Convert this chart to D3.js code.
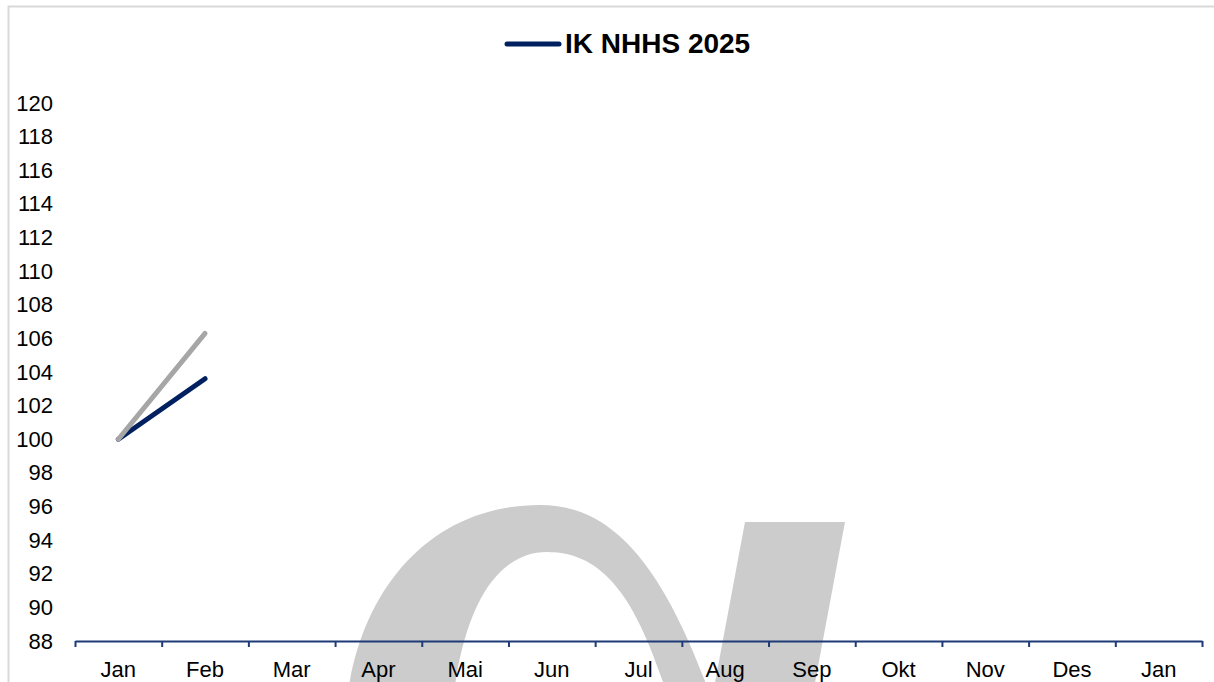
<!DOCTYPE html>
<html>
<head>
    <meta charset="utf-8">
    <script src="https://d3js.org/d3.v7.min.js"></script>
    <style>
        body { margin: 0; background: #fff; }
        text { font-family: Arial, "Liberation Sans", sans-serif; }
    </style>
</head>
<body>
    <svg width="1214" height="682"></svg>

    <script>
        // month labels along the x axis (the year rolls over to Jan at the end)
        var months = ["Jan", "Feb", "Mar", "Apr", "Mai", "Jun", "Jul", "Aug", "Sep", "Okt", "Nov", "Des", "Jan"];
        // index values
        var ikNhhs2025 = [100, 103.6];
        var ikCompare = [100, 106.3];
        var yTicks = [88, 90, 92, 94, 96, 98, 100, 102, 104, 106, 108, 110, 112, 114, 116, 118, 120];
        var legendLabel = "IK NHHS 2025";

        var width = 1214;
        var height = 682;

        var svg = d3.select("svg")
            .attr("width", width)
            .attr("height", height);

        // chart frame (runs off the bottom/right of the picture)
        svg.append("rect")
            .attr("x", 8.5)
            .attr("y", 6.5)
            .attr("width", 1240)
            .attr("height", 720)
            .attr("fill", "#fff")
            .attr("stroke", "#d9d9d9")
            .attr("stroke-width", 2);

        // grey watermark logo behind the plot
        var logo = svg.append("g").attr("fill", "#cccccc");
        logo.append("path")
            .attr("d", "M347,700 C360,590 430,505 540,505 C610,505 662,560 712,700 " +
                       "L669,700 C640,610 610,552 547,552 C500,552 465,600 453,700 Z");
        logo.append("path")
            .attr("d", "M745,522 L845,522 L811,704 L711,704 Z");

        var x = d3.scaleBand()
            .domain(d3.range(months.length))
            .range([75, 1202]);

        var xEdges = d3.scaleLinear()
            .domain([0, months.length])
            .range([75, 1202]);

        var y = d3.scaleLinear()
            .domain([88, 120])
            .range([641, 103]);

        // y labels only, no axis line
        var yAxis = svg.append("g")
            .attr("transform", "translate(53,0)")
            .call(d3.axisLeft(y).tickValues(yTicks).tickSize(0).tickPadding(0));
        yAxis.select(".domain").remove();
        yAxis.selectAll("text")
            .style("font-size", "22px")
            .attr("fill", "#000");

        // x axis line with ticks at category boundaries
        var xAxis = svg.append("g")
            .attr("transform", "translate(0,641)")
            .call(d3.axisBottom(xEdges).tickValues(d3.range(months.length + 1))
                .tickFormat("").tickSize(6).tickSizeOuter(0));
        xAxis.select(".domain").attr("stroke", "#1f3a78").attr("stroke-width", 2);
        xAxis.selectAll(".tick line").attr("stroke", "#1f3a78").attr("stroke-width", 2);

        // month labels centred in each band
        var xLabels = svg.append("g")
            .attr("transform", "translate(0,641)")
            .call(d3.axisBottom(x).tickSize(0).tickFormat(function(i) { return months[i]; }));
        xLabels.select(".domain").remove();
        xLabels.selectAll("text")
            .attr("y", 36)
            .attr("dy", 0)
            .style("font-size", "22px")
            .attr("fill", "#000");

        var line = d3.line()
            .x(function(d, i) { return x(i) + x.bandwidth() / 2; })
            .y(function(d) { return y(d); });

        svg.append("path")
            .datum(ikNhhs2025)
            .attr("d", line)
            .attr("fill", "none")
            .attr("stroke", "#002060")
            .attr("stroke-width", 5)
            .attr("stroke-linecap", "round");

        svg.append("path")
            .datum(ikCompare)
            .attr("d", line)
            .attr("fill", "none")
            .attr("stroke", "#a6a6a6")
            .attr("stroke-width", 5)
            .attr("stroke-linecap", "round");

        // legend at the top
        var legend = svg.append("g");
        legend.append("line")
            .attr("x1", 507).attr("x2", 559)
            .attr("y1", 44).attr("y2", 44)
            .attr("stroke", "#002060")
            .attr("stroke-width", 5)
            .attr("stroke-linecap", "round");
        legend.append("text")
            .attr("x", 565)
            .attr("y", 53)
            .text(legendLabel)
            .style("font-size", "28px")
            .style("font-weight", "bold")
            .attr("fill", "#000");
    </script>
</body>
</html>
